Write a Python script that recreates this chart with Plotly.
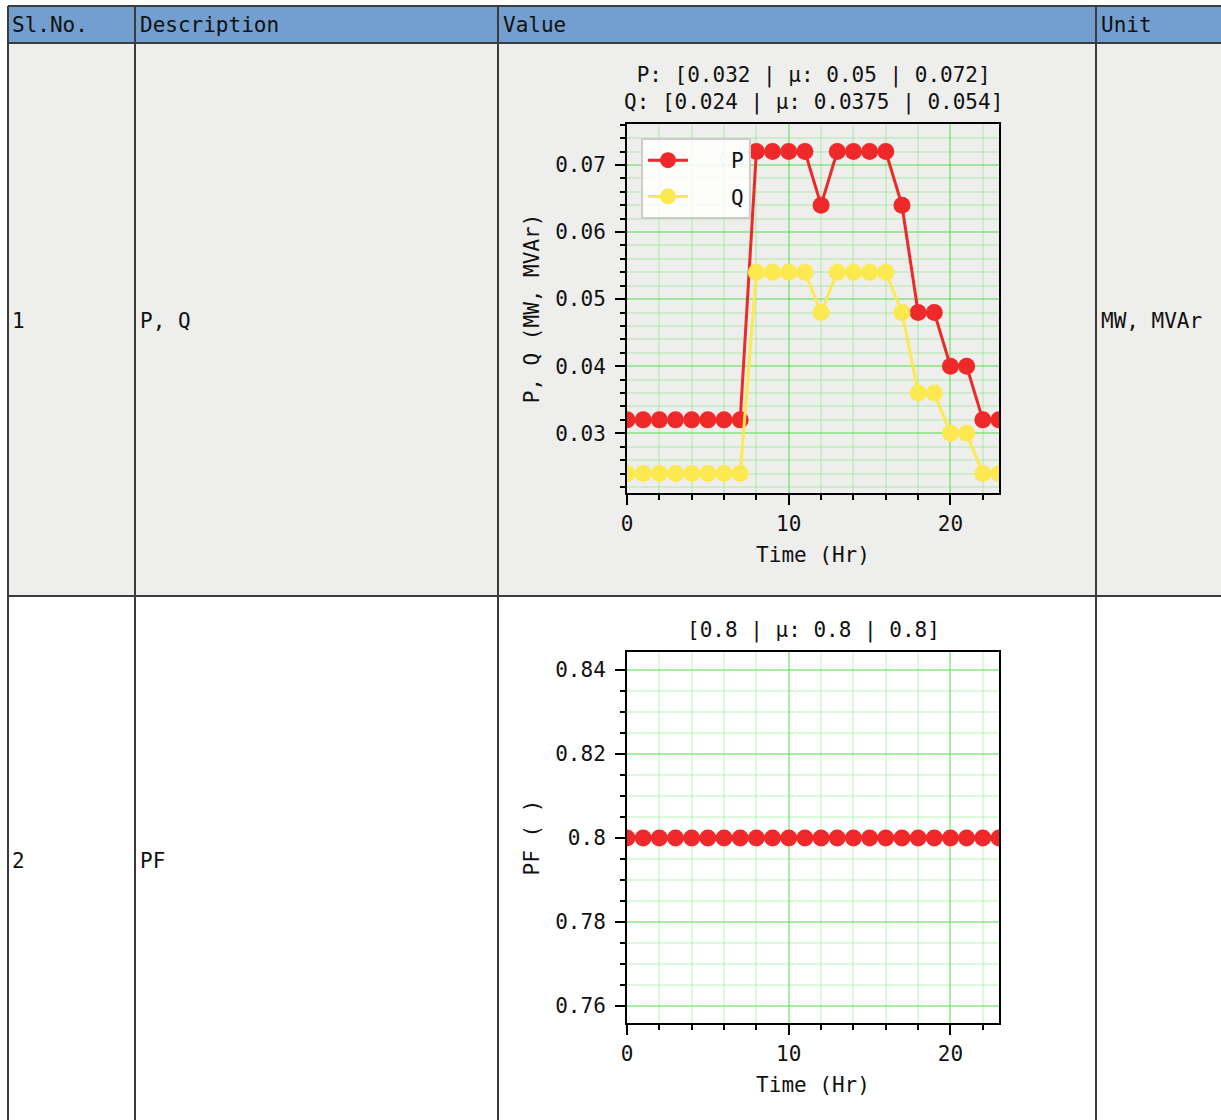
import plotly.graph_objects as go

# ---- data ----
hours = list(range(24))
p_vals = [0.032]*8 + [0.072, 0.072, 0.072, 0.072, 0.064, 0.072, 0.072, 0.072, 0.072, 0.064,
                      0.048, 0.048, 0.040, 0.040, 0.032, 0.032]
q_vals = [0.024]*8 + [0.054, 0.054, 0.054, 0.054, 0.048, 0.054, 0.054, 0.054, 0.054, 0.048,
                      0.036, 0.036, 0.030, 0.030, 0.024, 0.024]
pf_vals = [0.8]*24

header = ["Sl.No.", "Description", "Value", "Unit"]
sl_nos = ["1", "2"]
descriptions = ["P, Q", "PF"]
units = ["MW, MVAr", ""]
title1 = "P: [0.032 | μ: 0.05 | 0.072]<br>Q: [0.024 | μ: 0.0375 | 0.054]"
title2 = "[0.8 | μ: 0.8 | 0.8]"

W, H = 1221, 1120
FONT = "DejaVu Sans Mono"
FS = 21
RED = "#ef2929"
YEL = "#fce94f"
GRID_MAJ = "rgba(60,220,60,0.45)"
GRID_MIN = "rgba(60,220,60,0.18)"
BORDER = "#3c3c3c"
NB = "\u00a0\u00a0\u2009"

def fx(px):
    return px / W

def fy(py):
    return 1 - py / H

fig = go.Figure()

fig.add_trace(go.Scatter(x=hours, y=p_vals, name=NB + "P", mode="lines+markers", legendgroup="P",
                         line=dict(color=RED, width=3), marker=dict(size=17, color=RED),
                         xaxis="x", yaxis="y"))
fig.add_trace(go.Scatter(x=hours, y=q_vals, name=NB + "Q", mode="lines+markers", legendgroup="Q",
                         line=dict(color=YEL, width=3), marker=dict(size=17, color=YEL),
                         xaxis="x", yaxis="y"))
fig.add_trace(go.Scatter(x=hours, y=pf_vals, name="PF", mode="lines+markers",
                         line=dict(color=RED, width=3), marker=dict(size=17, color=RED),
                         xaxis="x2", yaxis="y2", showlegend=False))

# table geometry (pixels)
col_x = [8, 135, 498, 1096, 1240]
row_y = [6, 43, 596, 1130]

shapes = []
shapes.append(dict(type="rect", xref="paper", yref="paper", x0=fx(col_x[0]), x1=fx(col_x[-1]),
                   y0=fy(row_y[0]), y1=fy(row_y[1]), fillcolor="#729fcf", line=dict(width=0), layer="below"))
shapes.append(dict(type="rect", xref="paper", yref="paper", x0=fx(col_x[0]), x1=fx(col_x[-1]),
                   y0=fy(row_y[1]), y1=fy(row_y[2]), fillcolor="#eeeeec", line=dict(width=0), layer="below"))
shapes.append(dict(type="rect", xref="paper", yref="paper", x0=fx(col_x[0]), x1=fx(col_x[-1]),
                   y0=fy(row_y[2]), y1=fy(row_y[3]), fillcolor="#ffffff", line=dict(width=0), layer="below"))
for xv in col_x[:-1]:
    shapes.append(dict(type="line", xref="paper", yref="paper", x0=fx(xv), x1=fx(xv),
                       y0=fy(row_y[0]), y1=fy(row_y[-1]), line=dict(color=BORDER, width=2)))
for yv in row_y[:-1]:
    shapes.append(dict(type="line", xref="paper", yref="paper", x0=fx(col_x[0]), x1=fx(col_x[-1]),
                       y0=fy(yv), y1=fy(yv), line=dict(color=BORDER, width=2)))

annotations = []
def txt(s, xp, yp, xanchor="left", size=FS):
    annotations.append(dict(text=s, x=fx(xp), y=fy(yp), xref="paper", yref="paper",
                            xanchor=xanchor, yanchor="middle", showarrow=False,
                            font=dict(family=FONT, size=size, color="#111")))

hdr_x = [10, 138, 501, 1099]
for h, xp in zip(header, hdr_x):
    txt(h, xp, 25)
row_centers = [321, 861]
for i in range(2):
    txt(sl_nos[i], 10, row_centers[i])
    txt(descriptions[i], 138, row_centers[i])
    if units[i]:
        txt(units[i], 1099, row_centers[i])

annotations.append(dict(text=title1, x=fx(813), y=fy(117), xref="paper", yref="paper",
                        xanchor="center", yanchor="bottom", showarrow=False,
                        font=dict(family=FONT, size=FS, color="#111")))
annotations.append(dict(text=title2, x=fx(813), y=fy(645), xref="paper", yref="paper",
                        xanchor="center", yanchor="bottom", showarrow=False,
                        font=dict(family=FONT, size=FS, color="#111")))

def xaxis_cfg(domain, anchor):
    return dict(domain=domain, anchor=anchor, range=[0, 23], dtick=10, tick0=0, automargin=False,
                showline=True, mirror=True, linecolor="black", linewidth=2,
                ticks="outside", ticklen=10, tickwidth=2, tickcolor="black", ticklabelstandoff=1,
                showgrid=True, gridcolor=GRID_MAJ, gridwidth=1.5, zeroline=False,
                tickfont=dict(family=FONT, size=FS, color="#111"),
                title=dict(text="Time (Hr)", font=dict(family=FONT, size=FS, color="#111"), standoff=12),
                minor=dict(dtick=2, tick0=0, ticks="outside", ticklen=5, tickwidth=1.5, tickcolor="black",
                           showgrid=True, gridcolor=GRID_MIN, gridwidth=1.5))

def yaxis_cfg(domain, anchor, rng, dtick, mdtick, title):
    return dict(domain=domain, anchor=anchor, range=rng, dtick=dtick, tick0=0, automargin=False,
                showline=True, mirror=True, linecolor="black", linewidth=2,
                ticks="outside", ticklen=10, tickwidth=2, tickcolor="black", ticklabelstandoff=5,
                showgrid=True, gridcolor=GRID_MAJ, gridwidth=1.5, zeroline=False,
                tickfont=dict(family=FONT, size=FS, color="#111"),
                title=dict(text=title, font=dict(family=FONT, size=FS, color="#111"), standoff=10),
                minor=dict(dtick=mdtick, tick0=0, ticks="outside", ticklen=5, tickwidth=1.5, tickcolor="black",
                           showgrid=True, gridcolor=GRID_MIN, gridwidth=1.5))

fig.update_layout(
    width=W, height=H, margin=dict(l=0, r=0, t=0, b=0, autoexpand=False),
    paper_bgcolor="white", plot_bgcolor="rgba(0,0,0,0)",
    font=dict(family=FONT, size=FS, color="#111"),
    xaxis=xaxis_cfg([fx(627), fx(999)], "y"),
    yaxis=yaxis_cfg([fy(493), fy(124)], "x", [0.0211, 0.0761], 0.01, 0.002, "P, Q (MW, MVAr)"),
    xaxis2=xaxis_cfg([fx(627), fx(999)], "y2"),
    yaxis2=yaxis_cfg([fy(1023), fy(652)], "x2", [0.7559, 0.8443], 0.02, 0.005, "PF ( )"),
    shapes=shapes, annotations=annotations,
    showlegend=True,
    legend=dict(x=fx(641), y=fy(138), xanchor="left", yanchor="top",
                bgcolor="rgba(255,255,255,0.85)", bordercolor="#cccccc", borderwidth=2,
                font=dict(family=FONT, size=FS, color="#111"), itemwidth=40,
                tracegroupgap=6),
)

fig.write_html("out.html")
